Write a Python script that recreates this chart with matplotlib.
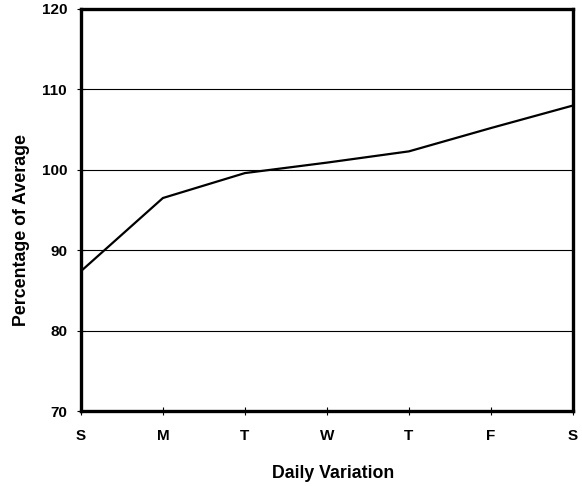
import matplotlib
matplotlib.use("Agg")
import matplotlib.pyplot as plt

days = ["S", "M", "T", "W", "T", "F", "S"]
pct_of_avg = [87.4, 96.5, 99.6, 100.9, 102.3, 105.2, 108.0]
y_ticks = [70, 80, 90, 100, 110, 120]

plt.rcParams['font.family'] = ['Liberation Sans', 'DejaVu Sans']
plt.rcParams['font.weight'] = 'bold'

fig = plt.figure(figsize=(5.82, 4.86), dpi=100)
ax = fig.add_axes([0.139, 0.154, 0.8455, 0.8275])

x = list(range(len(days)))
ax.plot(x, pct_of_avg, color='black', linewidth=1.6)

ax.set_xlim(0, len(days) - 1)
ax.set_ylim(70, 120)
ax.set_xticks(x)
ax.set_xticklabels(days)
ax.set_yticks(y_ticks)

for y in y_ticks[1:-1]:
    ax.axhline(y, color='black', linewidth=0.8, zorder=0)

for s in ax.spines.values():
    s.set_linewidth(2.4)
    s.set_color('black')

ax.tick_params(axis='both', direction='inout', length=6, width=0.8,
               labelsize=11)
ax.tick_params(axis='x', pad=10)
ax.tick_params(axis='y', pad=7)
for lbl in ax.get_xticklabels() + ax.get_yticklabels():
    lbl.set_fontweight('bold')

# axis titles sit a bit off-centre in the original
fig.text(333 / 582, 1 - 473 / 486, "Daily Variation", fontsize=12.8,
         fontweight='bold', ha='center', va='center')
fig.text(21.5 / 582, 1 - 230 / 486, "Percentage of Average", fontsize=12.8,
         fontweight='bold', ha='center', va='center', rotation=90)

fig.savefig("out.png", dpi=100)
